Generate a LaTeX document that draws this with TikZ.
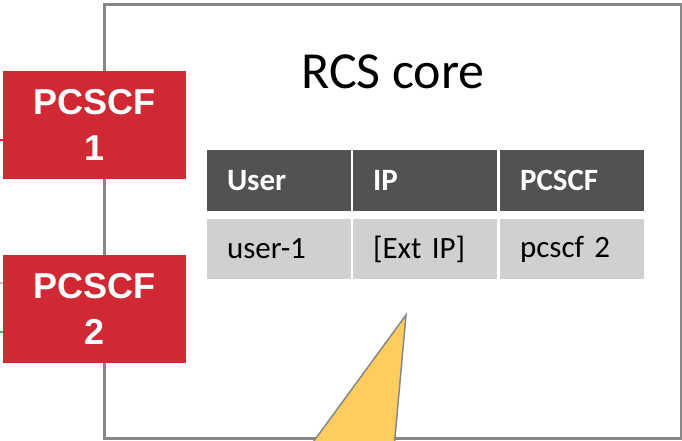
\documentclass[tikz,border=0pt]{standalone}
\usepackage{fontspec}
\setmainfont{Carlito}
\newfontfamily\arialbold{Liberation Sans}[Scale=1.0]
\usepackage{tikz}
\usetikzlibrary{positioning}
\definecolor{pcred}{RGB}{209,41,51}
\definecolor{boxgray}{RGB}{135,135,135}
\definecolor{headgray}{RGB}{82,82,82}
\definecolor{cellgray}{RGB}{208,208,208}
\definecolor{wedge}{RGB}{255,205,95}
\tikzset{
pcscf/.style={fill=pcred, text=white, minimum width=183pt, minimum height=108pt,
  align=center, font=\arialbold\bfseries\fontsize{36}{46}\selectfont},
hcell/.style={fill=headgray, text=white, inner xsep=20pt, text width=104pt, align=left,
  minimum height=61pt, font=\bfseries\fontsize{31}{36}\selectfont},
dcell/.style={hcell, fill=cellgray, text=black, minimum height=60pt,
  font=\fontsize{31}{36}\selectfont}
}

\begin{document}
\begin{tikzpicture}[x=1pt, y=-1pt]
    \useasboundingbox (0,0) rectangle (682,441);
    \clip (0,0) rectangle (682,441);
    % core box
    \draw[boxgray, line width=3pt] (104,4.5) rectangle (681,438.7);
    \node[font=\fontsize{52}{60}\selectfont] (title) at (393,72) {RCS core};
    % table
    \foreach \x/\t [count=\i] in {279/User, 425/IP, 572/PCSCF} {
      \node[hcell] (h\i) at (\x,180.5) {\t};
    }
    \foreach \x/\t [count=\i] in {279/user-1, 425/{[Ext IP]}, 572/pcscf 2} {
      \node[dcell] (d\i) at (\x,249) {\t};
    }
    % pcscf boxes
    \node[pcscf] (p1) at (94.5,125) {PCSCF\\1};
    \node[pcscf] (p2) at (94.5,309) {PCSCF\\2};
    \coordinate (in1) at (0,140);
    \coordinate (in2) at (0,283);
    \coordinate (in3) at (0,332);
    \draw[pcred, line width=2pt] (in1) -- (in1 -| p1.west);
    \draw[pcred!40, line width=1.5pt] (in2) -- (in2 -| p2.west);
    \draw[green!60!black!70, line width=2pt] (in3) -- (in3 -| p2.west);
    % wedge
    \draw[boxgray, fill=wedge, line width=1.5pt] (406,315) -- (300,460) -- (393,460) -- cycle;
\end{tikzpicture}
\end{document}
